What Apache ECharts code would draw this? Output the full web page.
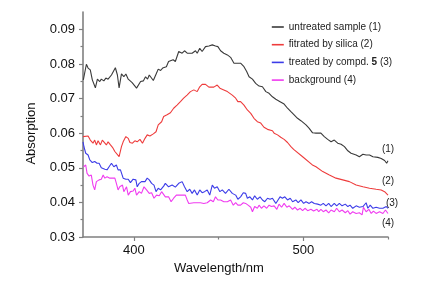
<!DOCTYPE html>
<html><head><meta charset="utf-8">
<script src="https://cdn.jsdelivr.net/npm/echarts@6/dist/echarts.min.js"></script>
<style>html,body{margin:0;padding:0;background:#fff}#c{width:424px;height:285px}</style>
</head><body><div id="c"></div>
<script>
// Series names and end tags
const seriesNames = ['untreated sample (1)', 'fitrated by silica (2)', 'treated by compd. 5 (3)', 'background (4)'];
const endTags = ['(1)', '(2)', '(3)', '(4)'];
const colors = ['#3a3a3a', '#ee3c3c', '#3c3ce8', '#f03cf0'];
// Axis ticks
const xLabels = [400, 500];
const xMinorTicks = [450, 550];
const yLabels = [0.03, 0.04, 0.05, 0.06, 0.07, 0.08, 0.09];
const yMinorTicks = [0.035, 0.045, 0.055, 0.065, 0.075, 0.085];
// [wavelength nm, absorption]
const untreated = [[370.2,0.0754],[372.0,0.0799],[373.0,0.0788],[374.3,0.0783],[375.5,0.0754],[377.3,0.0731],[378.5,0.0756],[379.9,0.0749],[380.8,0.0756],[382.3,0.0751],[383.5,0.0759],[384.8,0.0756],[386.8,0.0768],[389.1,0.0789],[390.3,0.0768],[391.3,0.0731],[392.7,0.0771],[394.1,0.0763],[395.3,0.0771],[396.7,0.0756],[397.7,0.0754],[399.0,0.0746],[400.0,0.0749],[401.6,0.0730],[402.6,0.0731],[404.0,0.0749],[405.6,0.0751],[406.9,0.0763],[408.1,0.0756],[409.1,0.0768],[410.1,0.0763],[411.5,0.0752],[413.1,0.0770],[414.4,0.0785],[415.8,0.0781],[417.0,0.0788],[419.2,0.0792],[420.5,0.0807],[421.6,0.0802],[423.2,0.0812],[424.5,0.0807],[426.5,0.0836],[427.5,0.0840],[428.5,0.0831],[429.9,0.0838],[431.5,0.0831],[434.4,0.0831],[436.4,0.0838],[437.4,0.0831],[438.9,0.0845],[440.3,0.0836],[442.3,0.0850],[444.3,0.0852],[446.3,0.0855],[447.2,0.0860],[448.2,0.0852],[449.6,0.0850],[451.2,0.0838],[453.1,0.0831],[455.2,0.0826],[457.1,0.0819],[459.1,0.0802],[461.4,0.0802],[463.0,0.0802],[465.0,0.0792],[466.6,0.0778],[468.0,0.0763],[470.0,0.0756],[471.9,0.0744],[473.9,0.0736],[475.9,0.0734],[477.9,0.0720],[479.8,0.0715],[481.8,0.0705],[483.8,0.0698],[486.3,0.0691],[488.7,0.0684],[490.7,0.0672],[492.7,0.0662],[494.6,0.0653],[496.6,0.0643],[498.6,0.0636],[501.6,0.0624],[503.5,0.0614],[505.5,0.0601],[507.5,0.0600],[510.4,0.0600],[512.4,0.0590],[514.4,0.0582],[516.4,0.0575],[518.3,0.0580],[520.3,0.0571],[522.3,0.0568],[524.3,0.0561],[526.3,0.0549],[528.2,0.0542],[531.2,0.0537],[533.1,0.0532],[535.2,0.0539],[537.1,0.0537],[539.1,0.0537],[541.1,0.0532],[544.0,0.0530],[546.0,0.0527],[548.0,0.0521],[549.2,0.0513],[550,0.0520]];
const silica = [[370.0,0.0590],[371.0,0.0590],[373.0,0.0592],[374.3,0.0580],[375.9,0.0571],[376.9,0.0580],[377.9,0.0566],[378.9,0.0578],[380.3,0.0566],[381.4,0.0580],[382.4,0.0578],[383.8,0.0566],[384.8,0.0575],[386.2,0.0566],[387.4,0.0559],[388.8,0.0547],[389.7,0.0542],[391.3,0.0532],[392.7,0.0561],[393.7,0.0575],[395.3,0.0590],[396.7,0.0585],[397.7,0.0573],[399.2,0.0571],[400.6,0.0578],[402.0,0.0575],[403.6,0.0582],[405.1,0.0571],[406.6,0.0585],[407.9,0.0595],[409.5,0.0592],[411.5,0.0598],[413.1,0.0604],[414.4,0.0624],[416.4,0.0633],[417.6,0.0648],[419.6,0.0653],[421.6,0.0659],[423.5,0.0672],[425.5,0.0681],[427.5,0.0691],[429.4,0.0701],[431.4,0.0710],[433.4,0.0720],[435.4,0.0725],[436.4,0.0730],[437.4,0.0720],[438.9,0.0734],[440.3,0.0741],[442.3,0.0741],[444.3,0.0733],[447.2,0.0733],[449.2,0.0739],[450.8,0.0730],[453.1,0.0725],[455.2,0.0720],[458.1,0.0710],[460.1,0.0701],[461.4,0.0691],[463.0,0.0691],[465.0,0.0681],[467.0,0.0667],[469.0,0.0657],[470.9,0.0643],[472.9,0.0633],[474.9,0.0629],[476.8,0.0617],[478.9,0.0611],[481.8,0.0607],[482.8,0.0600],[484.8,0.0595],[486.7,0.0588],[488.7,0.0582],[490.7,0.0573],[492.7,0.0561],[494.3,0.0553],[499.8,0.0531],[505.7,0.0507],[507.5,0.0503],[511.5,0.0489],[515.4,0.0479],[519.3,0.0470],[523.3,0.0465],[527.2,0.0460],[531.2,0.0450],[535.2,0.0445],[539.1,0.0441],[543.0,0.0438],[546.0,0.0436],[548.0,0.0431],[550.0,0.0421]];
const treated = [[370.0,0.0575],[370.6,0.0560],[371.6,0.0542],[373.0,0.0537],[374.0,0.0523],[375.5,0.0515],[376.9,0.0518],[378.3,0.0513],[379.5,0.0513],[380.8,0.0500],[381.9,0.0503],[382.9,0.0496],[384.2,0.0494],[385.4,0.0503],[386.8,0.0513],[388.2,0.0503],[389.7,0.0508],[390.7,0.0494],[392.1,0.0494],[393.7,0.0470],[395.3,0.0467],[396.7,0.0467],[398.0,0.0457],[399.6,0.0467],[401.2,0.0465],[402.0,0.0445],[403.2,0.0455],[404.5,0.0460],[406.6,0.0460],[407.9,0.0470],[409.1,0.0465],[410.5,0.0455],[411.9,0.0450],[413.1,0.0431],[414.4,0.0441],[415.8,0.0436],[417.6,0.0447],[418.6,0.0455],[420.5,0.0445],[422.6,0.0450],[424.5,0.0444],[426.5,0.0455],[428.5,0.0460],[429.9,0.0445],[431.5,0.0431],[433.0,0.0438],[434.4,0.0426],[435.8,0.0436],[437.4,0.0421],[438.9,0.0436],[440.3,0.0428],[441.7,0.0431],[443.3,0.0436],[444.8,0.0421],[446.3,0.0450],[447.6,0.0441],[449.2,0.0445],[450.8,0.0431],[452.2,0.0436],[454.1,0.0426],[456.1,0.0438],[458.1,0.0426],[460.1,0.0421],[461.4,0.0409],[463.0,0.0416],[464.6,0.0428],[466.0,0.0426],[467.0,0.0412],[468.5,0.0416],[470.0,0.0407],[471.3,0.0419],[472.9,0.0409],[474.5,0.0416],[475.9,0.0407],[477.3,0.0402],[478.9,0.0412],[480.4,0.0409],[481.8,0.0412],[483.8,0.0397],[485.1,0.0407],[486.3,0.0416],[487.7,0.0412],[489.1,0.0416],[490.7,0.0407],[492.3,0.0412],[493.7,0.0402],[495.6,0.0407],[497.0,0.0399],[498.6,0.0407],[500.2,0.0397],[501.6,0.0402],[503.5,0.0397],[504.9,0.0402],[506.5,0.0397],[508.5,0.0395],[510.4,0.0392],[511.8,0.0397],[513.4,0.0390],[515.0,0.0397],[516.4,0.0388],[518.3,0.0397],[519.7,0.0390],[521.3,0.0397],[522.9,0.0390],[524.8,0.0395],[526.3,0.0388],[527.6,0.0392],[529.2,0.0383],[531.2,0.0390],[533.1,0.0386],[535.2,0.0388],[537.1,0.0399],[538.1,0.0383],[539.5,0.0392],[541.1,0.0383],[543.0,0.0386],[545.0,0.0383],[547.0,0.0383],[549.0,0.0388],[550.0,0.0383]];
const background = [[370.4,0.0503],[371.6,0.0508],[372.4,0.0484],[373.6,0.0476],[374.9,0.0479],[375.9,0.0450],[376.9,0.0436],[377.9,0.0460],[379.5,0.0465],[380.8,0.0467],[381.9,0.0479],[382.9,0.0470],[384.2,0.0474],[385.8,0.0470],[387.4,0.0470],[388.8,0.0470],[389.7,0.0455],[390.7,0.0436],[391.7,0.0445],[393.3,0.0450],[394.1,0.0431],[395.7,0.0445],[396.7,0.0421],[398.0,0.0431],[399.6,0.0433],[400.6,0.0441],[401.6,0.0421],[403.2,0.0431],[404.5,0.0426],[406.0,0.0445],[407.5,0.0436],[409.1,0.0426],[410.5,0.0428],[411.9,0.0412],[413.4,0.0421],[415.0,0.0419],[416.4,0.0431],[417.4,0.0431],[418.6,0.0416],[420.5,0.0416],[422.0,0.0402],[423.5,0.0412],[425.1,0.0421],[427.5,0.0421],[430.4,0.0421],[431.5,0.0407],[432.4,0.0397],[435.4,0.0399],[437.4,0.0399],[439.3,0.0399],[441.3,0.0397],[443.3,0.0399],[445.3,0.0407],[446.9,0.0402],[448.2,0.0416],[449.6,0.0407],[451.2,0.0407],[453.1,0.0402],[455.2,0.0402],[457.1,0.0407],[458.7,0.0392],[460.1,0.0399],[461.4,0.0392],[463.0,0.0392],[464.6,0.0399],[466.0,0.0397],[467.4,0.0392],[469.0,0.0386],[470.0,0.0373],[471.3,0.0388],[472.9,0.0383],[473.9,0.0392],[475.3,0.0383],[476.8,0.0390],[478.4,0.0383],[479.8,0.0392],[481.2,0.0388],[482.8,0.0390],[484.4,0.0380],[485.7,0.0395],[487.2,0.0386],[488.7,0.0397],[490.3,0.0386],[491.7,0.0390],[493.7,0.0380],[495.0,0.0386],[496.6,0.0378],[498.2,0.0383],[499.6,0.0376],[501.0,0.0383],[502.6,0.0376],[504.5,0.0380],[506.1,0.0375],[508.1,0.0380],[509.1,0.0373],[510.4,0.0380],[511.8,0.0373],[513.4,0.0378],[515.0,0.0370],[516.4,0.0378],[518.3,0.0373],[519.7,0.0383],[521.3,0.0373],[522.9,0.0378],[524.8,0.0370],[526.3,0.0376],[527.6,0.0366],[529.2,0.0373],[531.2,0.0368],[533.1,0.0370],[534.7,0.0364],[535.5,0.0386],[537.1,0.0373],[538.7,0.0380],[540.1,0.0368],[541.4,0.0375],[543.0,0.0368],[545.0,0.0373],[547.0,0.0368],[548.5,0.0378],[550.0,0.0368]];

const allData = [untreated, silica, treated, background];
const tagOffsets = [[0,-12],[0,-14],[4,-5],[0,10]];
const FONT = '"Liberation Sans", Arial, sans-serif';
const axisColor = '#808080';

const chart = echarts.init(document.getElementById('c'), null, {renderer: 'canvas'});
const option = {
  backgroundColor: '#fff',
  animation: false,
  grid: {left: 83, right: 36, top: 12, bottom: 48, containLabel: false},
  legend: {
    orient: 'vertical', left: 266, top: 17,
    itemWidth: 12, itemHeight: 10, itemGap: 7.7,
    data: seriesNames,
    itemStyle: {opacity: 0},
    lineStyle: {width: 1.6},
    textStyle: {fontFamily: FONT, fontSize: 10, color: '#222', rich: {b: {fontFamily: FONT, fontSize: 10, fontWeight: 'bold', color: '#222'}}},
    formatter: n => n.replace('compd. 5', 'compd. {b|5}')
  },
  xAxis: [{
    type: 'value', min: 370, max: 550,
    name: 'Wavelength/nm', nameLocation: 'middle', nameGap: 25,
    nameTextStyle: {fontFamily: FONT, fontSize: 13, color: '#111', padding: [0, 33, 0, 0]},
    axisLine: {lineStyle: {color: axisColor, width: 1.6}},
    axisTick: {customValues: xLabels, length: 4, lineStyle: {color: axisColor, width: 1.2}},
    axisLabel: {customValues: xLabels, margin: 7, fontFamily: FONT, fontSize: 13, color: '#111'},
    splitLine: {show: false}
  }, {
    type: 'value', min: 370, max: 550, position: 'bottom',
    axisLine: {show: false},
    axisTick: {customValues: xMinorTicks, length: 2.5, lineStyle: {color: axisColor, width: 1.2}},
    axisLabel: {show: false}, splitLine: {show: false}
  }],
  yAxis: [{
    type: 'value', min: 0.03, max: 0.095,
    name: 'Absorption', nameLocation: 'middle', nameGap: 45,
    nameTextStyle: {fontFamily: FONT, fontSize: 13, color: '#111', padding: [0, 18, 0, 0]},
    axisLine: {show: true, lineStyle: {color: axisColor, width: 1.6}},
    axisTick: {show: true, customValues: yLabels, length: 4, lineStyle: {color: axisColor, width: 1.2}},
    axisLabel: {customValues: yLabels, margin: 8, fontFamily: FONT, fontSize: 13, color: '#111', formatter: v => v.toFixed(2)},
    splitLine: {show: false}
  }, {
    type: 'value', min: 0.03, max: 0.095, position: 'left',
    axisLine: {show: false},
    axisTick: {show: true, customValues: yMinorTicks, length: 2.5, lineStyle: {color: axisColor, width: 1.2}},
    axisLabel: {show: false}, splitLine: {show: false}
  }],
  series: seriesNames.map((name, i) => {
    const d = allData[i];
    const last = d[d.length - 1];
    return {
      name, type: 'line', xAxisIndex: 0, yAxisIndex: 0,
      symbol: 'none', showSymbol: false,
      color: colors[i],
      lineStyle: {width: 1.1, color: colors[i]},
      data: d,
      markPoint: {
        symbol: 'circle', symbolSize: 0, silent: true,
        itemStyle: {color: 'rgba(0,0,0,0)'},
        label: {show: true, position: 'inside', offset: tagOffsets[i], formatter: endTags[i], fontFamily: FONT, fontSize: 10, color: '#222'},
        data: [{coord: last}]
      }
    };
  })
};
chart.setOption(option);
</script></body></html>
